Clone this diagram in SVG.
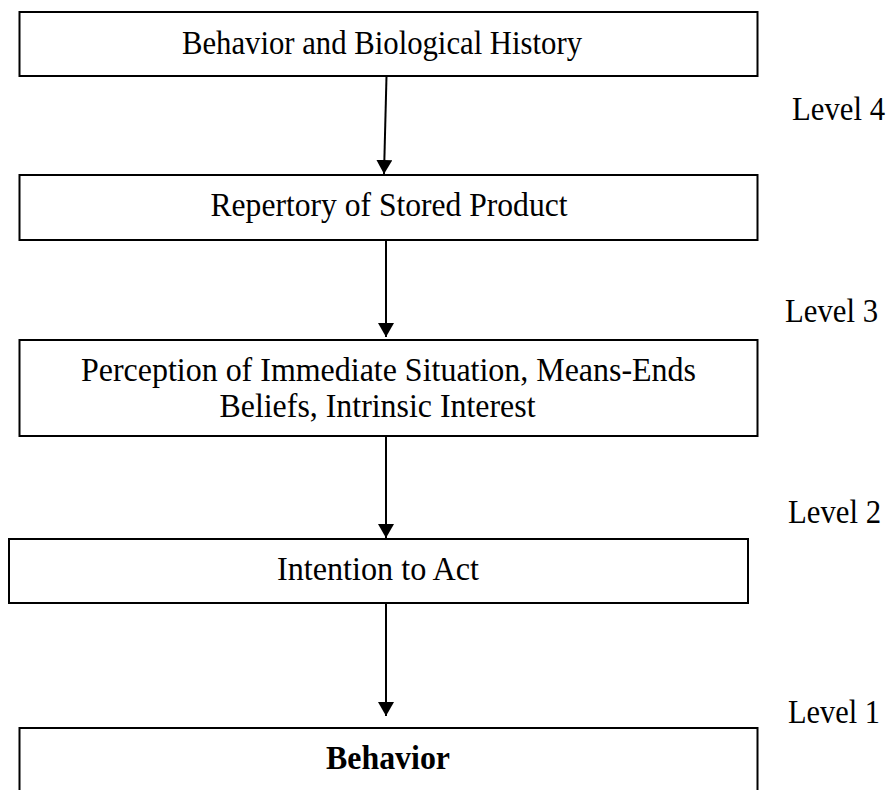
<svg xmlns="http://www.w3.org/2000/svg" width="893" height="790" viewBox="0 0 893 790">
  <style>
    .box { fill: #ffffff; stroke: #000000; stroke-width: 2; }
    .txt { font-family: "Liberation Serif", "Times New Roman", serif; font-size: 33px; fill: #000000; text-anchor: middle; }
    .lvl { font-family: "Liberation Serif", "Times New Roman", serif; font-size: 33px; fill: #000000; }
    .bold { font-weight: bold; }
    .link { stroke: #000000; stroke-width: 2; fill: none; }
  </style>
  <defs>
    <marker id="head" viewBox="0 0 14 16" refX="14" refY="8" markerWidth="14" markerHeight="16" markerUnits="userSpaceOnUse" orient="auto">
      <path d="M0,0 L14,8 L0,16 Z" fill="#000000"/>
    </marker>
  </defs>
  <rect width="893" height="790" fill="#ffffff"/>

  <g id="connectors">
    <line class="link" x1="386.5" y1="76" x2="384" y2="174" marker-end="url(#head)"/>
    <line class="link" x1="386" y1="240" x2="386" y2="337" marker-end="url(#head)"/>
    <line class="link" x1="386" y1="437" x2="386" y2="538" marker-end="url(#head)"/>
    <line class="link" x1="386" y1="604" x2="386" y2="716" marker-end="url(#head)"/>
  </g>

  <g id="node-history">
    <rect class="box" x="19.5" y="12" width="738" height="64"/>
    <text class="txt" x="382" y="54" textLength="400" lengthAdjust="spacingAndGlyphs">Behavior and Biological History</text>
  </g>

  <g id="node-repertory">
    <rect class="box" x="19.5" y="175" width="738" height="65"/>
    <text class="txt" x="389" y="216" textLength="357" lengthAdjust="spacingAndGlyphs">Repertory of Stored Product</text>
  </g>

  <g id="node-perception">
    <rect class="box" x="19.5" y="340" width="738" height="96"/>
    <text class="txt" x="388.5" y="381" textLength="615" lengthAdjust="spacingAndGlyphs">Perception of Immediate Situation, Means-Ends</text>
    <text class="txt" x="377.5" y="417" textLength="316" lengthAdjust="spacingAndGlyphs">Beliefs, Intrinsic Interest</text>
  </g>

  <g id="node-intention">
    <rect class="box" x="9" y="539" width="739" height="64"/>
    <text class="txt" x="378" y="580" textLength="202" lengthAdjust="spacingAndGlyphs">Intention to Act</text>
  </g>

  <g id="node-behavior">
    <rect class="box" x="19.5" y="728" width="738" height="70"/>
    <text class="txt bold" x="388" y="769" textLength="124" lengthAdjust="spacingAndGlyphs">Behavior</text>
  </g>

  <g id="levels">
    <text class="lvl" x="792" y="120" textLength="93" lengthAdjust="spacingAndGlyphs">Level 4</text>
    <text class="lvl" x="785" y="322" textLength="93" lengthAdjust="spacingAndGlyphs">Level 3</text>
    <text class="lvl" x="788" y="523" textLength="93" lengthAdjust="spacingAndGlyphs">Level 2</text>
    <text class="lvl" x="788" y="723" textLength="92" lengthAdjust="spacingAndGlyphs">Level 1</text>
  </g>
</svg>
